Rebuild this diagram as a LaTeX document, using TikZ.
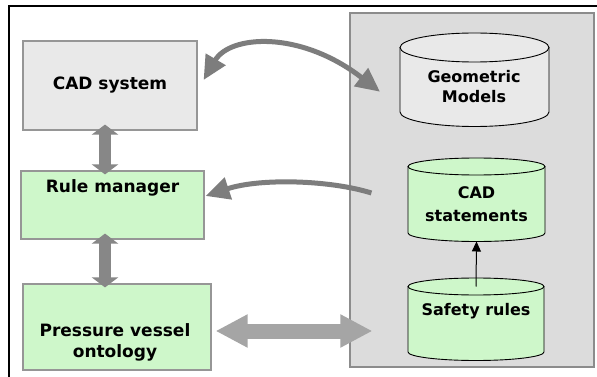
\documentclass[tikz,border=0pt]{standalone}
\usepackage{fontspec}
\setmainfont{DejaVu Sans}
\usetikzlibrary{arrows.meta,calc}
\definecolor{boxgreen}{RGB}{206,247,202}
\definecolor{boxgray}{RGB}{233,233,233}
\definecolor{boxedge}{RGB}{150,150,150}
\definecolor{panelgray}{RGB}{220,220,220}
\definecolor{paneledge}{RGB}{140,140,140}
\definecolor{arrowgray}{RGB}{125,125,125}
\definecolor{arrowlight}{RGB}{165,165,165}
\definecolor{arrowmid}{RGB}{135,135,135}
\tikzset{
  box/.style={draw=boxedge, line width=1.2pt, inner sep=0pt},
  lbl/.style={anchor=base, inner sep=0pt, font=\bfseries\fontsize{17}{20}\selectfont},
  clbl/.style={anchor=base, inner sep=0pt, font=\bfseries\fontsize{16}{20}\selectfont},
  curvearrow/.style={draw=arrowgray, line width=5pt},
  vertarrow/.style={draw=arrowmid, line width=12pt, {Triangle[length=10pt,width=26pt]}-{Triangle[length=10pt,width=26pt]}},
  horarrow/.style={draw=arrowlight, line width=15pt, {Triangle[length=32pt,width=31pt]}-{Triangle[length=32pt,width=31pt]}},
}
% cylinder: name, x1, x2, ytopcenter, ybotcenter, ry, fill
\newcommand\mycylinder[7]{%
  \pgfmathsetmacro\cylrx{(#3-#2)/2}%
  \fill[#7] (#2,#4) -- (#2,#5) arc[start angle=180,end angle=360,x radius=\cylrx pt,y radius=#6pt]
     -- (#3,#4) arc[start angle=0,end angle=180,x radius=\cylrx pt,y radius=#6pt] -- cycle;
  \draw[line width=0.9pt] (#2,#4) -- (#2,#5) arc[start angle=180,end angle=360,x radius=\cylrx pt,y radius=#6pt] -- (#3,#4);
  \draw[line width=0.9pt] ({(#2+#3)/2},#4) ellipse[x radius=\cylrx pt,y radius=#6pt];
  \coordinate (#1-top) at ({(#2+#3)/2},#4);
  \coordinate (#1-bot) at ({(#2+#3)/2},{#5+#6});
  \coordinate (#1-west) at (#2,{(#4+#5)/2});
}
\begin{document}
\begin{tikzpicture}[x=1pt,y=-1pt]
\useasboundingbox (0,0) rectangle (597,377);
\fill[white] (0,0) rectangle (597,377);
% outer frame lines
\coordinate (frameTL) at (9,6);
\coordinate (frameTR) at (597,6);
\coordinate (frameBL) at (9,377);
\draw[line width=2pt] (frameTR) -- (frameTL) -- (frameBL);
% panel
\node[draw=paneledge, fill=panelgray, line width=1.2pt, minimum width=244pt, minimum height=354pt, inner sep=0pt] (panel) at (472,190) {};
% left boxes
\node[box, fill=boxgray, minimum width=174pt, minimum height=89pt] (cad) at (110,85.5) {};
\node[lbl] (cadtxt) at (110,90) {CAD system};
\node[box, fill=boxgreen, minimum width=183pt, minimum height=68pt] (rule) at (112.5,205) {};
\node[lbl] (ruletxt) at (112.5,193) {Rule manager};
\node[box, fill=boxgreen, minimum width=188pt, minimum height=86pt] (pv) at (117,327) {};
\node[lbl] (pvtxtA) at (115,336) {Pressure vessel};
\node[lbl] (pvtxtB) at (115,357) {ontology};
% cylinders
\mycylinder{geo}{400}{549}{47.5}{112}{14.5}{boxgray}
\node[clbl] (geotxtA) at (474,83) {Geometric};
\node[clbl] (geotxtB) at (474,103) {Models};
\mycylinder{cads}{408}{545}{166.5}{233}{8.5}{boxgreen}
\node[clbl] (cadstxtA) at (476.5,198) {CAD};
\node[clbl] (cadstxtB) at (476.5,221) {statements};
\mycylinder{safe}{408}{544}{286.5}{352}{8.5}{boxgreen}
\node[clbl] (safetxt) at (476,315) {Safety rules};
% small arrow
\draw[line width=1pt, -{Triangle[length=10pt,width=9pt]}] (safe-top) -- (cads-bot);
% curved arrows
\coordinate (c1a) at ($(cad.east)+(6,-5.5)$);
\coordinate (c1b) at ($(geo-west)+(-20,12)$);
\draw[curvearrow, {Triangle[length=24pt,width=22pt]}-{Triangle[length=24pt,width=22pt]}]
  (c1a) .. controls (230,35) and (300,30) .. (c1b);
\coordinate (c2a) at ($(panel.west)+(22,3)$);
\coordinate (c2b) at ($(rule.east)+(1,-9)$);
\draw[curvearrow, -{Triangle[length=24pt,width=22pt]}]
  (c2a) .. controls (330,180) and (260,178) .. (c2b);
% straight thick arrows
\draw[vertarrow] ($(cad.south)+(-5,-6)$) -- ($(rule.north)+(-7.5,4)$);
\draw[vertarrow] ($(rule.south)+(-7.5,-6)$) -- ($(pv.north)+(-12,4)$);
\coordinate (h1) at ($(pv.east)+(4,4)$);
\coordinate (h2) at ($(h1 -| panel.west)+(23,0)$);
\draw[horarrow] (h1) -- (h2);
\end{tikzpicture}
\end{document}
